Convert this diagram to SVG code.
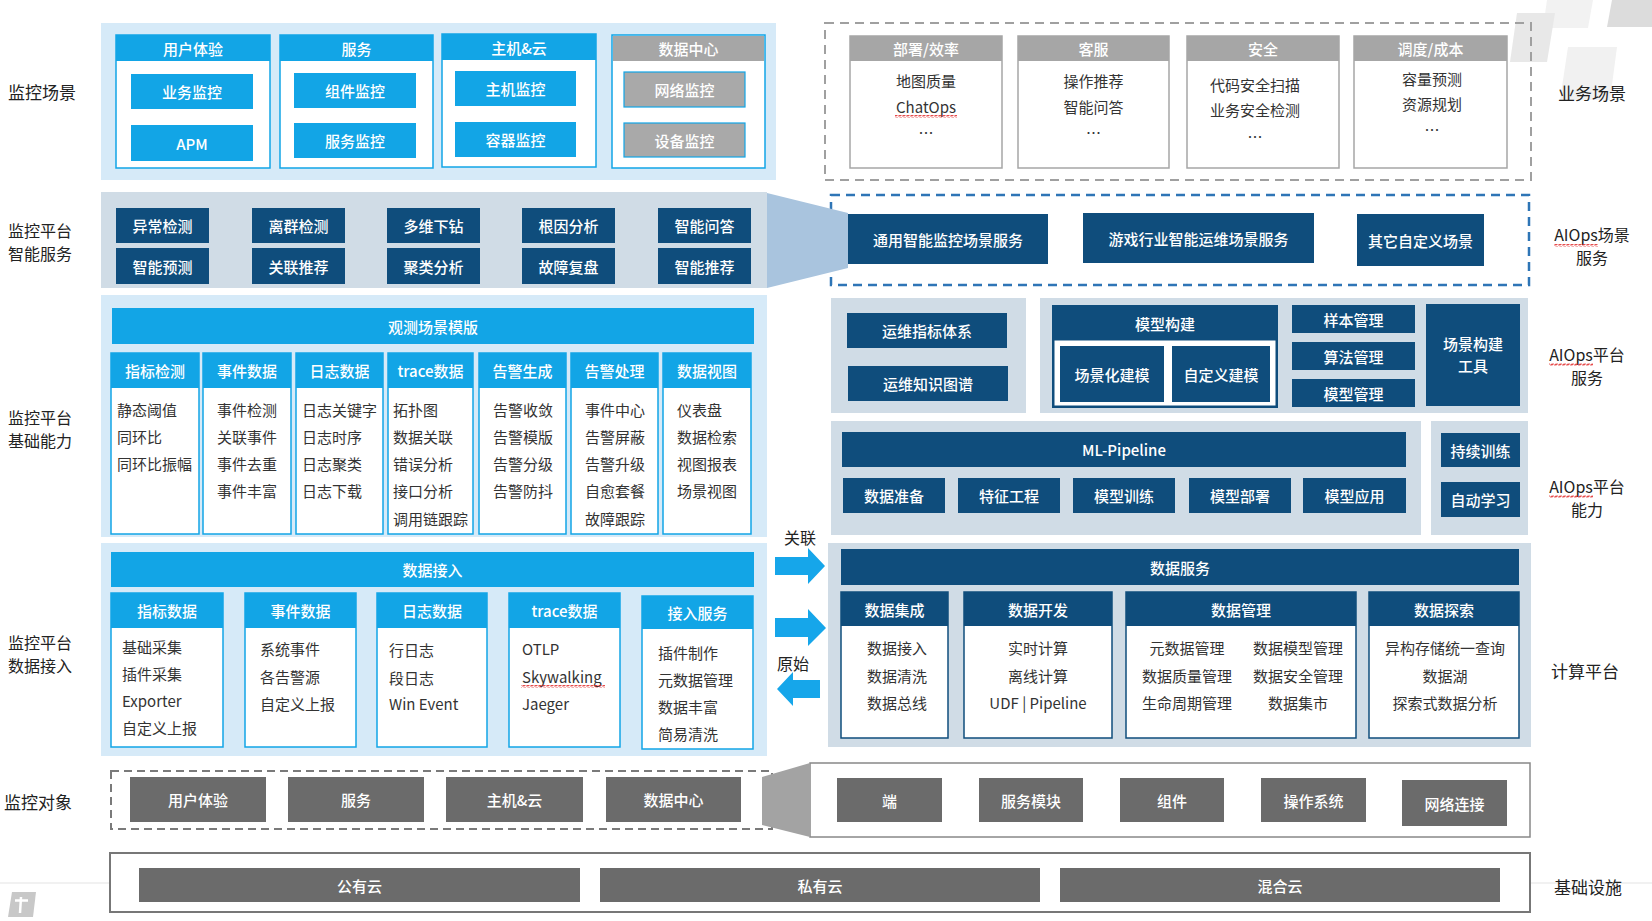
<svg xmlns="http://www.w3.org/2000/svg" width="1652" height="921" viewBox="0 0 1652 921">
<defs>
<style>
text{font-family:"Noto Sans CJK SC","Noto Sans",sans-serif;dominant-baseline:central}
.w{fill:#fff;font-size:15px;text-anchor:middle;font-weight:500}
.d{fill:#333;font-size:15px}
.dm{fill:#333;font-size:15px;text-anchor:middle}
.lbl{fill:#222;font-size:17px;text-anchor:middle}
.lb2{fill:#222;font-size:16px;text-anchor:middle}
.lp{fill:#d6eaf8}
.gp{fill:#d0dce6}
.bb{fill:#12a5e6}
.nv{fill:#0f4d7c}
.gh{fill:#a6a6a6}
.dg{fill:#6b6b6b}
.bcol{fill:#fff;stroke:#12a5e6;stroke-width:1.5}
.ncol{fill:#fff;stroke:#0f4d7c;stroke-width:1.5}
.gcol{fill:#fff;stroke:#a6a6a6;stroke-width:1.5}
.arr{fill:#16a6ea}
</style>
<pattern id="wavy" width="4" height="3" patternUnits="userSpaceOnUse">
<path d="M0,2.5 L1,0.5 L3,2.5 L4,0.5" fill="none" stroke="#e02020" stroke-width="0.8"/>
</pattern>
</defs>
<rect width="1652" height="921" fill="#fff"/>

<!-- decoration -->
<g id="decor">
<line x1="0" y1="883" x2="1652" y2="883" stroke="#ececec" stroke-width="1.5"/>
<polygon points="1547,0 1593,0 1588,28 1543,28" fill="#f2f2f2"/>
<polygon points="1612,0 1652,0 1652,27 1607,27" fill="#dcdcdc"/>
<polygon points="1517,13 1555,13 1547,62 1510,62" fill="#e8e8e8"/>
<polygon points="1568,47 1617,47 1610,100 1560,100" fill="#f1f1f1"/>
<polygon points="12,892 36,892 33,917 8,917" fill="#c8c8c8"/>
<path d="M21,897 L20,913 M15,900.5 L28,900.5" stroke="#fff" stroke-width="2.5" fill="none"/>
</g>

<!-- side labels -->
<g id="labels">
<text class="lbl" x="42" y="91">监控场景</text>
<text class="lb2" x="40" y="230">监控平台</text>
<text class="lb2" x="40" y="253">智能服务</text>
<text class="lb2" x="40" y="416.5">监控平台</text>
<text class="lb2" x="40" y="439.5">基础能力</text>
<text class="lb2" x="40" y="642">监控平台</text>
<text class="lb2" x="40" y="665">数据接入</text>
<text class="lbl" x="38" y="801">监控对象</text>
<text class="lbl" x="1592" y="92">业务场景</text>
<text class="lb2" x="1592" y="234">AIOps场景</text>
<text class="lb2" x="1592" y="257">服务</text>
<text class="lb2" x="1587" y="353.5">AIOps平台</text>
<text class="lb2" x="1587" y="376.5">服务</text>
<text class="lb2" x="1587" y="485.5">AIOps平台</text>
<text class="lb2" x="1587" y="508.5">能力</text>
<text class="lbl" x="1585" y="670">计算平台</text>
<text class="lbl" x="1588" y="886">基础设施</text>
<rect x="1554" y="244" width="44" height="3" fill="url(#wavy)"/>
<rect x="1549" y="363" width="44" height="3" fill="url(#wavy)"/>
<rect x="1549" y="495" width="44" height="3" fill="url(#wavy)"/>
</g>

<!-- 监控场景 -->
<g id="monitor-scenes">
<rect class="lp" x="101" y="23" width="675" height="157"/>
<rect class="bcol" x="116" y="35" width="154" height="133"/>
<rect class="bb" x="116" y="35" width="154" height="26"/>
<text class="w" x="193" y="48">用户体验</text>
<rect class="bb" x="131" y="74" width="122" height="35"/>
<text class="w" x="192" y="91.5">业务监控</text>
<rect class="bb" x="131" y="125" width="122" height="36"/>
<text class="w" x="192" y="143">APM</text>

<rect class="bcol" x="280" y="35" width="153" height="133"/>
<rect class="bb" x="280" y="35" width="153" height="26"/>
<text class="w" x="356.5" y="48">服务</text>
<rect class="bb" x="294" y="73" width="122" height="35"/>
<text class="w" x="355" y="90.5">组件监控</text>
<rect class="bb" x="294" y="123" width="122" height="35"/>
<text class="w" x="355" y="140.5">服务监控</text>

<rect class="bcol" x="442" y="34" width="154" height="133"/>
<rect class="bb" x="442" y="34" width="154" height="26"/>
<text class="w" x="519" y="47">主机&amp;云</text>
<rect class="bb" x="455" y="71" width="121" height="35"/>
<text class="w" x="515.5" y="88.5">主机监控</text>
<rect class="bb" x="455" y="122" width="121" height="35"/>
<text class="w" x="515.5" y="139.5">容器监控</text>

<rect class="bcol" x="612" y="35" width="153" height="133"/>
<rect class="gh" x="613" y="36" width="151" height="25"/>
<text class="w" x="688.5" y="48">数据中心</text>
<rect x="624" y="72" width="121" height="35" fill="#a9a9a9" stroke="#12a5e6" stroke-width="1.2"/>
<text class="w" x="684.5" y="89.5">网络监控</text>
<rect x="624" y="123" width="121" height="34" fill="#a9a9a9" stroke="#12a5e6" stroke-width="1.2"/>
<text class="w" x="684.5" y="140">设备监控</text>
</g>

<!-- 智能服务 -->
<g id="smart-services">
<rect class="gp" x="101" y="192" width="666" height="96"/>
<rect class="nv" x="116" y="208" width="93" height="35"/><text class="w" x="162.5" y="225.5">异常检测</text>
<rect class="nv" x="252" y="208" width="93" height="35"/><text class="w" x="298.5" y="225.5">离群检测</text>
<rect class="nv" x="387" y="208" width="93" height="35"/><text class="w" x="433.5" y="225.5">多维下钻</text>
<rect class="nv" x="522" y="208" width="93" height="35"/><text class="w" x="568.5" y="225.5">根因分析</text>
<rect class="nv" x="658" y="208" width="93" height="35"/><text class="w" x="704.5" y="225.5">智能问答</text>
<rect class="nv" x="116" y="248" width="93" height="36"/><text class="w" x="162.5" y="266">智能预测</text>
<rect class="nv" x="252" y="248" width="93" height="36"/><text class="w" x="298.5" y="266">关联推荐</text>
<rect class="nv" x="387" y="248" width="93" height="36"/><text class="w" x="433.5" y="266">聚类分析</text>
<rect class="nv" x="522" y="248" width="93" height="36"/><text class="w" x="568.5" y="266">故障复盘</text>
<rect class="nv" x="658" y="248" width="93" height="36"/><text class="w" x="704.5" y="266">智能推荐</text>
</g>

<!-- 基础能力 -->
<g id="base-capability">
<rect class="lp" x="101" y="295" width="666" height="242"/>
<rect class="bb" x="112" y="308" width="642" height="36"/>
<text class="w" x="433" y="326">观测场景模版</text>

<rect class="bcol" x="111" y="353" width="88" height="181"/><rect class="bb" x="111" y="353" width="88" height="35"/>
<text class="w" x="155" y="370.5">指标检测</text>
<text class="d" x="117" y="409">静态阈值</text><text class="d" x="117" y="436">同环比</text><text class="d" x="117" y="463">同环比振幅</text>

<rect class="bcol" x="203" y="353" width="88" height="181"/><rect class="bb" x="203" y="353" width="88" height="35"/>
<text class="w" x="247" y="370.5">事件数据</text>
<text class="d" x="217" y="409">事件检测</text><text class="d" x="217" y="436">关联事件</text><text class="d" x="217" y="463">事件去重</text><text class="d" x="217" y="490">事件丰富</text>

<rect class="bcol" x="296" y="353" width="87" height="181"/><rect class="bb" x="296" y="353" width="87" height="35"/>
<text class="w" x="339.5" y="370.5">日志数据</text>
<text class="d" x="302" y="409">日志关键字</text><text class="d" x="302" y="436">日志时序</text><text class="d" x="302" y="463">日志聚类</text><text class="d" x="302" y="490">日志下载</text>

<rect class="bcol" x="388" y="353" width="85" height="181"/><rect class="bb" x="388" y="353" width="85" height="35"/>
<text class="w" x="430.5" y="370.5">trace数据</text>
<text class="d" x="393" y="409">拓扑图</text><text class="d" x="393" y="436">数据关联</text><text class="d" x="393" y="463">错误分析</text><text class="d" x="393" y="490">接口分析</text><text class="d" x="393" y="518">调用链跟踪</text>

<rect class="bcol" x="479" y="353" width="87" height="181"/><rect class="bb" x="479" y="353" width="87" height="35"/>
<text class="w" x="522.5" y="370.5">告警生成</text>
<text class="d" x="493" y="409">告警收敛</text><text class="d" x="493" y="436">告警模版</text><text class="d" x="493" y="463">告警分级</text><text class="d" x="493" y="490">告警防抖</text>

<rect class="bcol" x="571" y="353" width="87" height="181"/><rect class="bb" x="571" y="353" width="87" height="35"/>
<text class="w" x="614.5" y="370.5">告警处理</text>
<text class="d" x="585" y="409">事件中心</text><text class="d" x="585" y="436">告警屏蔽</text><text class="d" x="585" y="463">告警升级</text><text class="d" x="585" y="490">自愈套餐</text><text class="d" x="585" y="518">故障跟踪</text>

<rect class="bcol" x="663" y="353" width="88" height="181"/><rect class="bb" x="663" y="353" width="88" height="35"/>
<text class="w" x="707" y="370.5">数据视图</text>
<text class="d" x="677" y="409">仪表盘</text><text class="d" x="677" y="436">数据检索</text><text class="d" x="677" y="463">视图报表</text><text class="d" x="677" y="490">场景视图</text>
</g>

<!-- 数据接入 -->
<g id="data-ingest">
<rect class="lp" x="101" y="543" width="666" height="213"/>
<rect class="bb" x="111" y="552" width="643" height="35"/>
<text class="w" x="432.5" y="569.5">数据接入</text>

<rect class="bcol" x="111" y="593" width="112" height="154"/><rect class="bb" x="111" y="593" width="112" height="35"/>
<text class="w" x="167" y="610.5">指标数据</text>
<text class="d" x="122" y="646">基础采集</text><text class="d" x="122" y="673">插件采集</text><text class="d" x="122" y="700">Exporter</text><text class="d" x="122" y="727">自定义上报</text>

<rect class="bcol" x="245" y="593" width="111" height="154"/><rect class="bb" x="245" y="593" width="111" height="35"/>
<text class="w" x="300.5" y="610.5">事件数据</text>
<text class="d" x="260" y="648">系统事件</text><text class="d" x="260" y="676">各告警源</text><text class="d" x="260" y="703">自定义上报</text>

<rect class="bcol" x="377" y="593" width="110" height="154"/><rect class="bb" x="377" y="593" width="110" height="35"/>
<text class="w" x="432" y="610.5">日志数据</text>
<text class="d" x="389" y="649">行日志</text><text class="d" x="389" y="677">段日志</text><text class="d" x="389" y="703">Win Event</text>

<rect class="bcol" x="509" y="593" width="111" height="154"/><rect class="bb" x="509" y="593" width="111" height="35"/>
<text class="w" x="564.5" y="610.5">trace数据</text>
<text class="d" x="522" y="648">OTLP</text><text class="d" x="522" y="676">Skywalking</text><text class="d" x="522" y="703">Jaeger</text>
<rect x="521" y="685" width="84" height="3" fill="url(#wavy)"/>

<rect class="bcol" x="642" y="596" width="111" height="153"/><rect class="bb" x="642" y="596" width="111" height="33"/>
<text class="w" x="697.5" y="612.5">接入服务</text>
<text class="d" x="658" y="652">插件制作</text><text class="d" x="658" y="679">元数据管理</text><text class="d" x="658" y="706">数据丰富</text><text class="d" x="658" y="733">简易清洗</text>
</g>

<!-- 监控对象 -->
<g id="monitor-objects">
<rect x="111" y="771" width="661" height="58" fill="#fff" stroke="#7a7a7a" stroke-width="2" stroke-dasharray="8,5"/>
<rect class="dg" x="130" y="777" width="136" height="45"/><text class="w" x="198" y="799.5">用户体验</text>
<rect class="dg" x="288" y="777" width="136" height="45"/><text class="w" x="356" y="799.5">服务</text>
<rect class="dg" x="446" y="777" width="137" height="45"/><text class="w" x="514.5" y="799.5">主机&amp;云</text>
<rect class="dg" x="606" y="777" width="135" height="45"/><text class="w" x="673.5" y="799.5">数据中心</text>
</g>
<g id="object-details">
<rect x="810" y="763" width="720" height="74" fill="#fff" stroke="#888" stroke-width="1.5"/>
<rect class="dg" x="837" y="778" width="105" height="44"/><text class="w" x="889.5" y="800">端</text>
<rect class="dg" x="979" y="778" width="104" height="44"/><text class="w" x="1031" y="800">服务模块</text>
<rect class="dg" x="1120" y="778" width="104" height="44"/><text class="w" x="1172" y="800">组件</text>
<rect class="dg" x="1261" y="778" width="105" height="44"/><text class="w" x="1313.5" y="800">操作系统</text>
<rect class="dg" x="1402" y="780" width="105" height="46"/><text class="w" x="1454.5" y="803">网络连接</text>
</g>

<!-- 基础设施 -->
<g id="infrastructure">
<rect x="110" y="853" width="1420" height="59" fill="#fff" stroke="#777" stroke-width="2"/>
<rect class="dg" x="139" y="868" width="441" height="34"/><text class="w" x="359.5" y="885">公有云</text>
<rect class="dg" x="600" y="868" width="440" height="34"/><text class="w" x="820" y="885">私有云</text>
<rect class="dg" x="1060" y="868" width="440" height="34"/><text class="w" x="1280" y="885">混合云</text>
</g>

<!-- 业务场景 -->
<g id="business-scenes">
<rect x="825" y="23" width="706" height="157" fill="none" stroke="#a0a0a0" stroke-width="2" stroke-dasharray="9,6"/>
<rect class="gcol" x="850" y="36" width="152" height="132"/><rect class="gh" x="850" y="36" width="152" height="25"/>
<text class="w" x="926" y="48.5">部署/效率</text>
<text class="dm" x="926" y="80">地图质量</text><text class="dm" x="926" y="106">ChatOps</text><text class="dm" x="926" y="132">…</text>
<rect x="895" y="115" width="62" height="3" fill="url(#wavy)"/>

<rect class="gcol" x="1018" y="36" width="151" height="132"/><rect class="gh" x="1018" y="36" width="151" height="25"/>
<text class="w" x="1093.5" y="48.5">客服</text>
<text class="dm" x="1093.5" y="80">操作推荐</text><text class="dm" x="1093.5" y="106">智能问答</text><text class="dm" x="1093.5" y="132">…</text>

<rect class="gcol" x="1187" y="36" width="152" height="132"/><rect class="gh" x="1187" y="36" width="152" height="25"/>
<text class="w" x="1263" y="48.5">安全</text>
<text class="dm" x="1255" y="84">代码安全扫描</text><text class="dm" x="1255" y="109">业务安全检测</text><text class="dm" x="1255" y="136">…</text>

<rect class="gcol" x="1354" y="36" width="153" height="132"/><rect class="gh" x="1354" y="36" width="153" height="25"/>
<text class="w" x="1430.5" y="48.5">调度/成本</text>
<text class="dm" x="1432" y="78">容量预测</text><text class="dm" x="1432" y="103">资源规划</text><text class="dm" x="1432" y="129">…</text>
</g>

<!-- AIOps场景服务 -->
<g id="aiops-scene-services">
<rect x="831" y="195" width="698" height="90" fill="none" stroke="#2e75b6" stroke-width="2.5" stroke-dasharray="9,6"/>
<rect class="nv" x="848" y="214" width="200" height="50"/><text class="w" x="948" y="239">通用智能监控场景服务</text>
<rect class="nv" x="1083" y="213" width="231" height="50"/><text class="w" x="1198.5" y="238">游戏行业智能运维场景服务</text>
<rect class="nv" x="1357" y="214" width="127" height="52"/><text class="w" x="1420.5" y="240">其它自定义场景</text>
</g>

<!-- AIOps平台服务 -->
<g id="aiops-platform-services">
<rect class="gp" x="831" y="298" width="195" height="115"/>
<rect class="nv" x="847" y="313" width="160" height="35"/><text class="w" x="927" y="330.5">运维指标体系</text>
<rect class="nv" x="848" y="366" width="160" height="35"/><text class="w" x="928" y="383.5">运维知识图谱</text>
<rect class="gp" x="1040" y="298" width="488" height="115"/>
<rect class="nv" x="1052" y="305" width="226" height="103"/>
<text class="w" x="1165" y="323">模型构建</text>
<rect x="1054.5" y="340.5" width="221" height="65" fill="#fff"/>
<rect class="nv" x="1060" y="346" width="104" height="56"/><text class="w" x="1112" y="374">场景化建模</text>
<rect class="nv" x="1172" y="346" width="98" height="56"/><text class="w" x="1221" y="374">自定义建模</text>
<rect class="nv" x="1292" y="305" width="123" height="28"/><text class="w" x="1353.5" y="319">样本管理</text>
<rect class="nv" x="1292" y="342" width="123" height="28"/><text class="w" x="1353.5" y="356">算法管理</text>
<rect class="nv" x="1292" y="379" width="123" height="28"/><text class="w" x="1353.5" y="393">模型管理</text>
<rect class="nv" x="1426" y="304" width="94" height="102"/>
<text class="w" x="1473" y="343">场景构建</text>
<text class="w" x="1473" y="365">工具</text>
</g>

<!-- AIOps平台能力 -->
<g id="aiops-platform-capability">
<rect class="gp" x="831" y="421" width="590" height="114"/>
<rect class="nv" x="842" y="432" width="564" height="35"/><text class="w" x="1124" y="449.5">ML-Pipeline</text>
<rect class="nv" x="843" y="478" width="102" height="35"/><text class="w" x="894" y="495.5">数据准备</text>
<rect class="nv" x="958" y="478" width="102" height="35"/><text class="w" x="1009" y="495.5">特征工程</text>
<rect class="nv" x="1073" y="478" width="102" height="35"/><text class="w" x="1124" y="495.5">模型训练</text>
<rect class="nv" x="1189" y="478" width="102" height="35"/><text class="w" x="1240" y="495.5">模型部署</text>
<rect class="nv" x="1303" y="478" width="103" height="35"/><text class="w" x="1354.5" y="495.5">模型应用</text>
<rect class="gp" x="1431" y="421" width="97" height="114"/>
<rect class="nv" x="1441" y="433" width="79" height="34"/><text class="w" x="1480.5" y="450">持续训练</text>
<rect class="nv" x="1441" y="482" width="79" height="35"/><text class="w" x="1480.5" y="499.5">自动学习</text>
</g>

<!-- 计算平台 -->
<g id="compute-platform">
<rect class="gp" x="828" y="543" width="703" height="204"/>
<rect class="nv" x="841" y="549" width="678" height="36"/><text class="w" x="1180" y="567">数据服务</text>

<rect class="ncol" x="841" y="592" width="107" height="146"/><rect class="nv" x="841" y="592" width="107" height="34"/>
<text class="w" x="894.5" y="609">数据集成</text>
<text class="dm" x="897" y="647">数据接入</text><text class="dm" x="897" y="675">数据清洗</text><text class="dm" x="897" y="702">数据总线</text>

<rect class="ncol" x="964" y="592" width="148" height="146"/><rect class="nv" x="964" y="592" width="148" height="34"/>
<text class="w" x="1038" y="609">数据开发</text>
<text class="dm" x="1038" y="647">实时计算</text><text class="dm" x="1038" y="675">离线计算</text><text class="dm" x="1038" y="702">UDF | Pipeline</text>

<rect class="ncol" x="1126" y="592" width="230" height="146"/><rect class="nv" x="1126" y="592" width="230" height="34"/>
<text class="w" x="1241" y="609">数据管理</text>
<text class="dm" x="1187" y="647">元数据管理</text><text class="dm" x="1187" y="675">数据质量管理</text><text class="dm" x="1187" y="702">生命周期管理</text>
<text class="dm" x="1298" y="647">数据模型管理</text><text class="dm" x="1298" y="675">数据安全管理</text><text class="dm" x="1298" y="702">数据集市</text>

<rect class="ncol" x="1369" y="592" width="150" height="146"/><rect class="nv" x="1369" y="592" width="150" height="34"/>
<text class="w" x="1444" y="609">数据探索</text>
<text class="dm" x="1445" y="647">异构存储统一查询</text><text class="dm" x="1445" y="675">数据湖</text><text class="dm" x="1445" y="702">探索式数据分析</text>
</g>

<!-- connectors -->
<g id="connectors">
<polygon points="767,193 848,213 848,268 767,288" fill="#a9c4de"/>
<polygon points="762,777 810,763 810,837 762,825" fill="#a3a3a3"/>
<polygon class="arr" points="775,557 808,557 808,548 825,566 808,584 808,575 775,575"/>
<polygon class="arr" points="775,618 808,618 808,609 826,628 808,646 808,637 775,637"/>
<polygon class="arr" points="820,680 793,680 793,672 777,689 793,706 793,698 820,698"/>
<text class="dm" x="800" y="537" style="font-size:16px;fill:#222">关联</text>
<text class="dm" x="793" y="663" style="font-size:16px;fill:#222">原始</text>
</g>
</svg>
